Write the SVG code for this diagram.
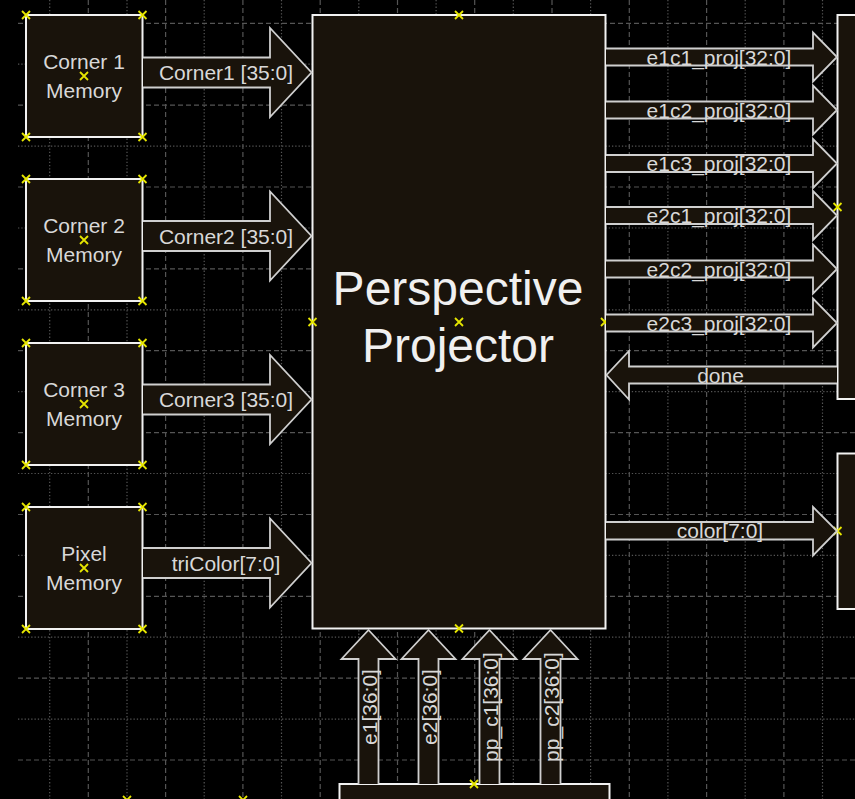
<svg xmlns="http://www.w3.org/2000/svg" xmlns:xlink="http://www.w3.org/1999/xlink" width="855" height="799" viewBox="0 0 855 799">
<style>
.gd{stroke:#555;stroke-width:1.2;stroke-dasharray:5 3;fill:none}
.gt{stroke:#555;stroke-width:1.2;stroke-dasharray:1.3 2;fill:none}
.box{fill:#19130b;stroke:#f2f2f2;stroke-width:2}
.arr{fill:#19130b;stroke:#cfcfcf;stroke-width:1.8;stroke-linejoin:miter}
.t{font-family:"Liberation Sans",Arial,sans-serif;font-size:21px;fill:#d8d8d8;text-anchor:middle}
.big{font-family:"Liberation Sans",Arial,sans-serif;font-size:48px;fill:#f0f0f0;text-anchor:middle}
.mk{stroke:#e6e600;stroke-width:1.8;fill:none}
</style>
<defs>
<path id="mk" d="M-4,-4 L4,4 M-4,4 L4,-4"/>
</defs>
<rect x="0" y="0" width="855" height="799" fill="#000"/>
<g id="grid">
<path class="gd" d="M18,23.3H855M18,105.2H855M18,187H855M18,268.9H855M18,350.7H855M18,432.6H855M18,514.5H855M18,596.3H855M18,678.2H855M18,760H855"/>
<path class="gt" d="M18,64.2H855M18,146.1H855M18,228H855M18,309.8H855M18,391.7H855M18,473.5H855M18,555.4H855M18,637.2H855M18,719.1H855"/>
<path class="gd" d="M88.3,0V799M165.6,0V799M242.9,0V799M320.2,0V799M397.5,0V799M474.7,0V799M552,0V799M629.3,0V799M706.6,0V799M783.9,0V799"/>
<path class="gt" d="M49.7,0V799M127,0V799M204.2,0V799M281.5,0V799M358.8,0V799M436.1,0V799M513.3,0V799M590.6,0V799M667.9,0V799M745.2,0V799M822.5,0V799"/>
</g>
<g id="corner1mem">
<rect class="box" x="26" y="15" width="116.5" height="122"/>
<text class="t" x="84" y="68.5">Corner 1</text>
<text class="t" x="84" y="97.5">Memory</text>
<g class="mk"><use xlink:href="#mk" x="26" y="15"/><use xlink:href="#mk" x="142.5" y="15"/><use xlink:href="#mk" x="26" y="137"/><use xlink:href="#mk" x="142.5" y="137"/><use xlink:href="#mk" x="84" y="76"/></g>
</g>
<g id="corner2mem">
<rect class="box" x="26" y="179" width="116.5" height="122"/>
<text class="t" x="84" y="232.5">Corner 2</text>
<text class="t" x="84" y="261.5">Memory</text>
<g class="mk"><use xlink:href="#mk" x="26" y="179"/><use xlink:href="#mk" x="142.5" y="179"/><use xlink:href="#mk" x="26" y="301"/><use xlink:href="#mk" x="142.5" y="301"/><use xlink:href="#mk" x="84" y="240"/></g>
</g>
<g id="corner3mem">
<rect class="box" x="26" y="343" width="116.5" height="122"/>
<text class="t" x="84" y="396.5">Corner 3</text>
<text class="t" x="84" y="425.5">Memory</text>
<g class="mk"><use xlink:href="#mk" x="26" y="343"/><use xlink:href="#mk" x="142.5" y="343"/><use xlink:href="#mk" x="26" y="465"/><use xlink:href="#mk" x="142.5" y="465"/><use xlink:href="#mk" x="84" y="404"/></g>
</g>
<g id="pixelmem">
<rect class="box" x="26" y="507" width="116.5" height="122"/>
<text class="t" x="84" y="560.5">Pixel</text>
<text class="t" x="84" y="589.5">Memory</text>
<g class="mk"><use xlink:href="#mk" x="26" y="507"/><use xlink:href="#mk" x="142.5" y="507"/><use xlink:href="#mk" x="26" y="629"/><use xlink:href="#mk" x="142.5" y="629"/><use xlink:href="#mk" x="84" y="568"/></g>
</g>
<g id="projector">
<rect class="box" x="312.5" y="15" width="293" height="613.5"/>
<text class="big" x="458" y="305">Perspective</text>
<text class="big" x="458" y="361.5">Projector</text>
<g class="mk"><use xlink:href="#mk" x="459" y="15"/><use xlink:href="#mk" x="312.5" y="322"/><use xlink:href="#mk" x="605" y="322"/><use xlink:href="#mk" x="459" y="322"/><use xlink:href="#mk" x="459" y="628.5"/></g>
</g>
<g id="rightblock1">
<rect class="box" x="837.5" y="15" width="30" height="384"/>
<g class="mk"><use xlink:href="#mk" x="837.5" y="207"/></g>
</g>
<g id="rightblock2">
<rect class="box" x="837.5" y="453.5" width="30" height="155.5"/>
<g class="mk"><use xlink:href="#mk" x="837.5" y="531"/></g>
</g>
<g id="bottomblock">
<rect class="box" x="339.5" y="784" width="270" height="30"/>
<g class="mk"><use xlink:href="#mk" x="474" y="784"/></g>
</g>
<g id="offscreen" class="mk"><use xlink:href="#mk" x="127" y="800"/><use xlink:href="#mk" x="243" y="800"/></g>
<g id="connectors">
<path class="arr" d="M143,57.5H270V28L311.5,72.5L270,117V87.5H143"/>
<text class="t" x="226" y="80">Corner1 [35:0]</text>
<path class="arr" d="M143,221H270V191.5L311.5,236L270,280.5V251H143"/>
<text class="t" x="226" y="243.5">Corner2 [35:0]</text>
<path class="arr" d="M143,384.5H270V355L311.5,399.5L270,444V414.5H143"/>
<text class="t" x="226" y="407">Corner3 [35:0]</text>
<path class="arr" d="M143,548H270V518.5L311.5,563L270,607.5V578H143"/>
<text class="t" x="226" y="570.5">triColor[7:0]</text>

<path class="arr" d="M606,48.5H813V32.5L837,57L813,81.5V65.5H606"/>
<text class="t" x="719" y="64.5">e1c1_proj[32:0]</text>
<path class="arr" d="M606,101.5H813V85.5L837,110L813,134.5V118.5H606"/>
<text class="t" x="719" y="117.5">e1c2_proj[32:0]</text>
<path class="arr" d="M606,155H813V139L837,163.5L813,188V172H606"/>
<text class="t" x="719" y="171">e1c3_proj[32:0]</text>
<path class="arr" d="M606,207H813V191L837,215.5L813,240V224H606"/>
<text class="t" x="719" y="223">e2c1_proj[32:0]</text>
<path class="arr" d="M606,260.5H813V244.5L837,269L813,293.5V277.5H606"/>
<text class="t" x="719" y="276.5">e2c2_proj[32:0]</text>
<path class="arr" d="M606,314.5H813V298.5L837,323L813,347.5V331.5H606"/>
<text class="t" x="719" y="330.5">e2c3_proj[32:0]</text>
<path class="arr" d="M837,366.5H629V351L606.5,375L629,399.5V383.5H837"/>
<text class="t" x="720.5" y="382.5">done</text>
<path class="arr" d="M606,522H813V507L837,531L813,555.5V539.5H606"/>
<text class="t" x="720" y="538">color[7:0]</text>

<path class="arr" d="M358.5,784V659H341.5L368.5,630L395.5,659H378.5V784"/>
<text class="t" transform="translate(376.5,707) rotate(-90)">e1[36:0]</text>
<path class="arr" d="M418.5,784V659H401.5L428.5,630L455.5,659H438.5V784"/>
<text class="t" transform="translate(436.5,707) rotate(-90)">e2[36:0]</text>
<path class="arr" d="M479.5,784V659H462.5L489.5,630L516.5,659H499.5V784"/>
<text class="t" transform="translate(497.5,707) rotate(-90)">pp_c1[36:0]</text>
<path class="arr" d="M540.5,784V659H523.5L550.5,630L577.5,659H560.5V784"/>
<text class="t" transform="translate(558.5,707) rotate(-90)">pp_c2[36:0]</text>
</g>
</svg>
